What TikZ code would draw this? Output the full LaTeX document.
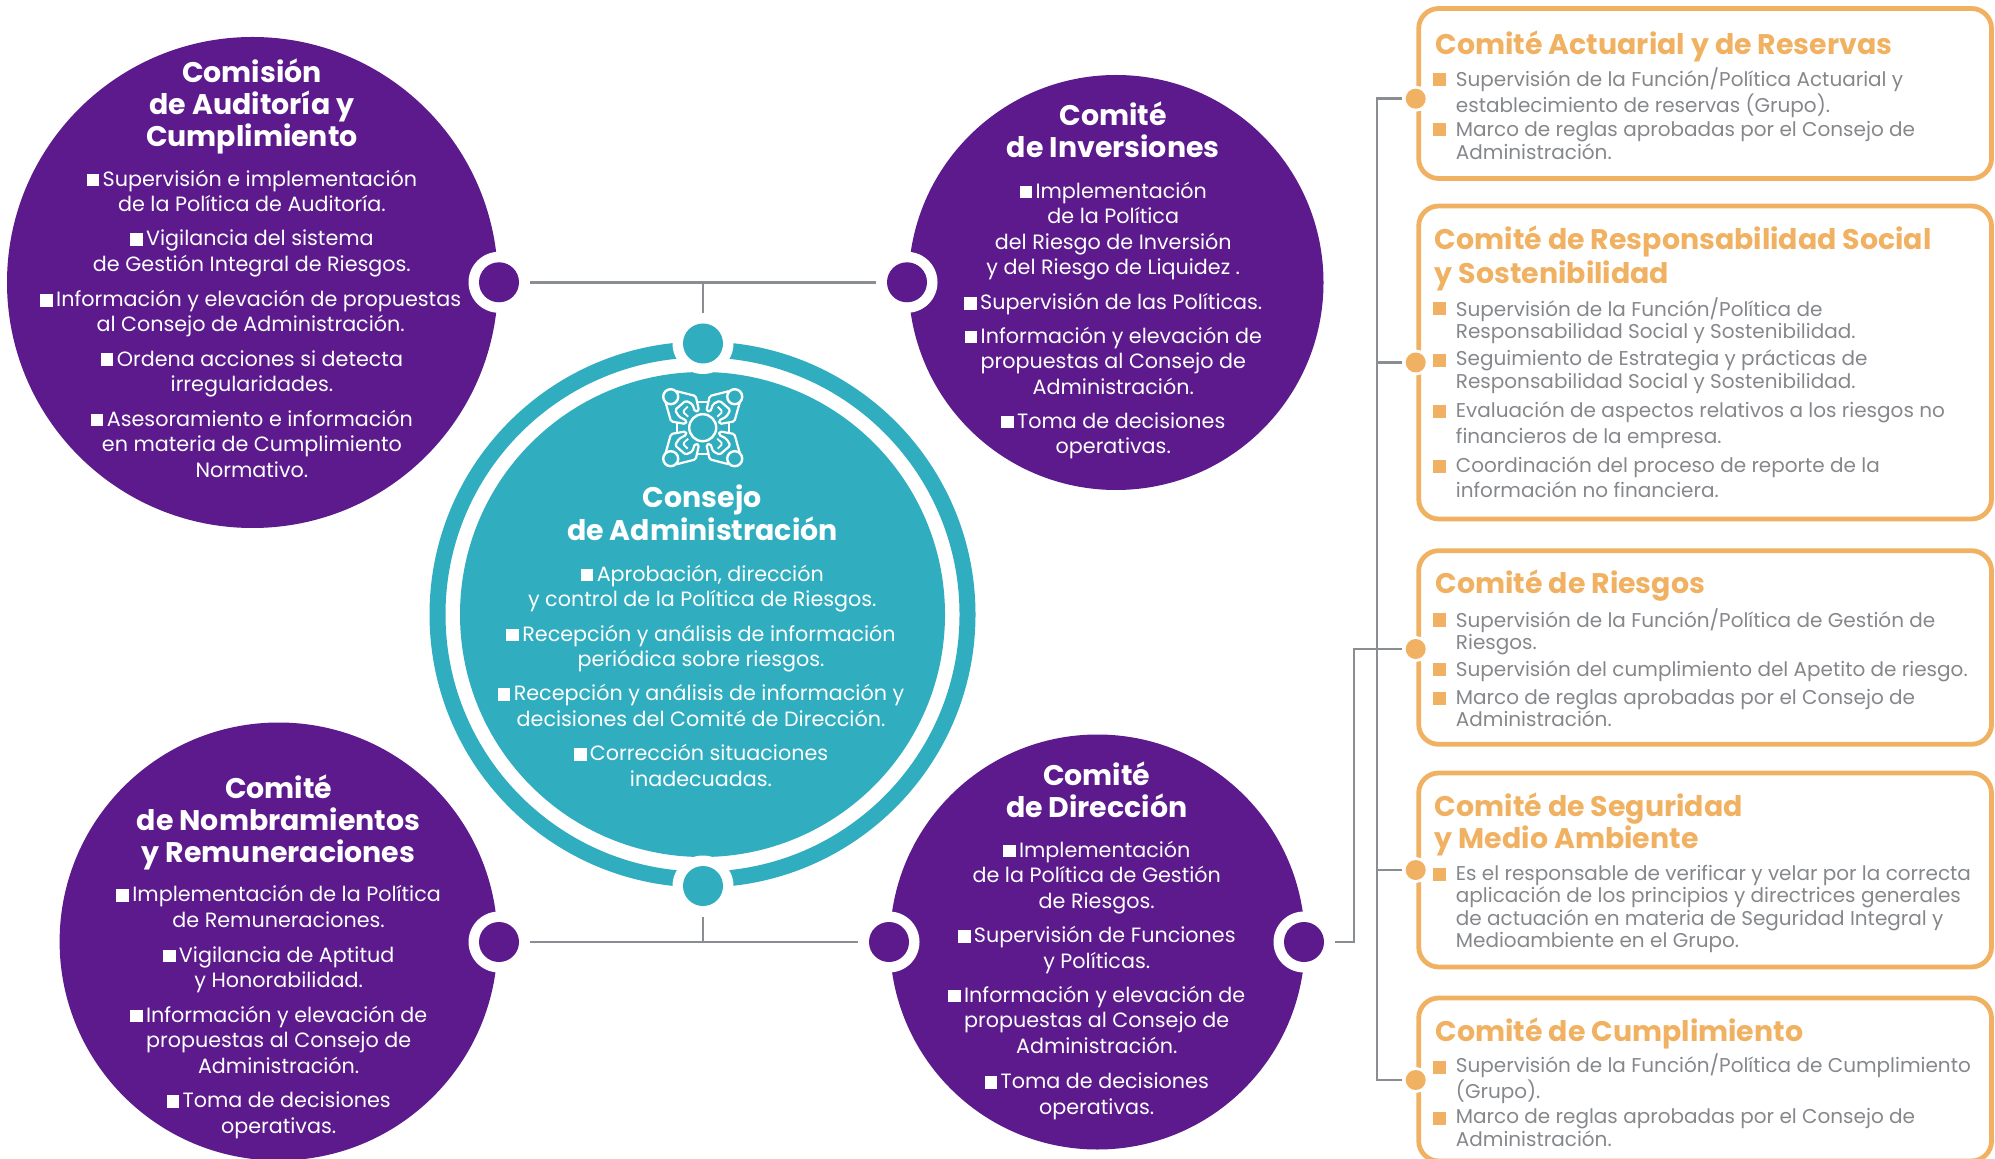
\documentclass[tikz,border=0pt]{standalone}
\usepackage{fontspec}
\setmainfont{Poppins}
\definecolor{morado}{HTML}{5C1A8C}
\definecolor{turq}{HTML}{30AEBF}
\definecolor{naranja}{HTML}{F0B262}
\definecolor{gris}{HTML}{8A8D91}
\definecolor{gristxt}{HTML}{85878B}
\newcommand\pts[2]{({#1*1.2723},{#2*1.2723})}
\newcommand\bu{\rule{6.3pt}{6.3pt}\hspace{1.7pt}}
\tikzset{
  x=0.5pt,y=-0.5pt,
  disc/.style={circle,fill=morado,inner sep=0pt,minimum size=#1},
  tdisc/.style={circle,fill=turq,inner sep=0pt,minimum size=40*0.5pt},
  pdot/.style={circle,fill=morado,inner sep=0pt,minimum size=40*0.5pt},
  halo/.style={circle,fill=white,inner sep=0pt,minimum size=61*0.5pt},
  ohalo/.style={circle,fill=white,inner sep=0pt,minimum size=26*0.5pt},
  odot/.style={circle,fill=naranja,inner sep=0pt,minimum size=20*0.5pt},
  conn/.style={draw=gris,line width=1.25pt},
  txt/.style={inner sep=0pt,yshift=-1.6pt,align=center,text=white,font=\fontsize{10.35}{12.72}\selectfont,
    execute at begin node=\strut,execute at end node=\strut},
  ttl/.style={inner sep=0pt,yshift=-2pt,align=center,text=white,font=\fontsize{14.2}{16.1}\bfseries\selectfont,
    execute at begin node=\strut,execute at end node=\strut},
  bt/.style={inner sep=0pt,yshift=-1pt,anchor=west,align=left,text=gristxt,font=\fontsize{10}{11.3}\selectfont,
    execute at begin node=\strut,execute at end node=\strut},
  btw/.style={bt,font=\fontsize{10}{12.7}\selectfont},
  btt/.style={inner sep=0pt,yshift=-1.5pt,anchor=west,align=left,text=naranja,font=\fontsize{14.2}{17}\bfseries\selectfont,
    execute at begin node=\strut,execute at end node=\strut},
  caja/.style={draw=naranja,line width=2.4pt,rounded corners=10pt},
  cua/.style={fill=naranja},
  ico/.style={draw=white,line width=1.1pt,rounded corners=0.8pt,line join=round},
}
\begin{document}
\begin{tikzpicture}
\clip (0,0) rectangle (1995,1159);
% purple discs
\node[disc=491*0.5pt] (c1) at (252.5,282.5) {};
\node[disc=415*0.5pt] (c2) at (1116,282.5) {};
\node[disc=438*0.5pt] (c3) at (278.6,941.5) {};
\node[disc=415*0.5pt] (c4) at (1097.4,942) {};
% centre
\node[circle,fill=turq,inner sep=0pt,minimum size=485*0.5pt] (c0) at (702.5,614.5) {};
\draw[turq,line width=8pt] (c0.center) circle[radius=265];
% halos
\node[halo] (h1) at (499,282.3) {};
\node[halo] (h2) at (907,282.3) {};
\node[halo] (h3) at (499,942) {};
\node[halo] (h4) at (889,942) {};
\node[halo] (h5) at (1304,942) {};
\node[halo] (ht) at (703,343.5) {};
\node[halo] (hb) at (703,886) {};
% connectors
\draw[conn] (h1) -- (h2);
\draw[conn] (ht.north) -- (ht.north |- h1.east);
\draw[conn] (h3) -- (h4);
\draw[conn] (hb.south) -- (hb.south |- h3.east);
% dots
\node[pdot] (d1) at (h1) {};
\node[pdot] (d2) at (h2) {};
\node[pdot] (d3) at (h3) {};
\node[pdot] (d4) at (h4) {};
\node[pdot] (d5) at (h5) {};
\node[tdisc] (dt) at (ht) {};
\node[tdisc] (db) at (hb) {};
% boxes
\draw[caja] (1418.7,8.5) rectangle (1991.5,178.5);
\draw[caja] (1418.7,206) rectangle (1991.5,519);
\draw[caja] (1418.7,550.7) rectangle (1991.5,744.3);
\draw[caja] (1418.7,773) rectangle (1991.5,967);
\draw[caja] (1418.7,998) rectangle (1991.5,1161);
% tree
\node[ohalo] (o1) at (1415.7,98.7) {};
\node[ohalo] (o2) at (1415.7,362.5) {};
\node[ohalo] (o3) at (1415.7,649) {};
\node[ohalo] (o4) at (1415.7,870) {};
\node[ohalo] (o5) at (1415.7,1080) {};
\coordinate (bus1a) at (1354,942);
\coordinate (bus1b) at (1354,649);
\coordinate (bus2a) at (1377,98.7);
\coordinate (bus2b) at (1377,1080);
\draw[conn] (h5) -- (bus1a) -- (bus1b) -- (o3);
\draw[conn] (o1) -- (bus2a) -- (bus2b) -- (o5);
\draw[conn] (o2) -- (bus2a |- o2);
\draw[conn] (o4) -- (bus2a |- o4);
\node[odot] (q1) at (o1) {};
\node[odot] (q2) at (o2) {};
\node[odot] (q3) at (o3) {};
\node[odot] (q4) at (o4) {};
\node[odot] (q5) at (o5) {};
% icon
\begin{scope}[shift={(702.7,427.7)}]
\draw[white,line width=1.2pt] (0,0) circle[radius=13.5];
\foreach \sx/\sy in {1/1,-1/1,1/-1,-1/-1}{
\begin{scope}[xscale=\sx,yscale=\sy]
\draw[white,line width=1.2pt] (-32,-31) circle[radius=7.5];
\draw[ico] (-26,-36.5) -- (-7,-31.7) -- (-3.7,-17) -- (-7.7,-16) -- (-10.3,-23.7) -- (-17,-27) -- (-27.7,-17.7) -- (-23.7,-11) -- (-16,-7) -- (-17,-3.7) -- (-31.7,-6.3) -- (-37,-25) ;
\draw[ico,line width=0.9pt] (-15,-21) -- (-20,-16) -- (-14.5,-11);
\draw[white,line width=1pt] (-6,-26) -- (0,-26) (-26,-6) -- (-26,0);
\end{scope}}
\end{scope}
% circle texts: Comision
\node[ttl] (t1) at \pts{198}{81.5} {Comisión\\de Auditoría y\\Cumplimiento};
\node[txt] (t1a) at \pts{198}{150.5} {\bu Supervisión e implementación\\de la Política de Auditoría.};
\node[txt] (t1b) at \pts{198}{197.5} {\bu Vigilancia del sistema\\de Gestión Integral de Riesgos.};
\node[txt] (t1c) at \pts{197}{245} {\bu Información y elevación de propuestas\\al Consejo de Administración.};
\node[txt] (t1d) at \pts{198}{292} {\bu Ordena acciones si detecta\\irregularidades.};
\node[txt] (t1e) at \pts{198}{349} {\bu Asesoramiento e información\\en materia de Cumplimiento\\Normativo.};
% Inversiones
\node[ttl] (t2) at \pts{875}{102.5} {Comité\\de Inversiones};
\node[txt] (t2a) at \pts{875}{180} {\bu Implementación\\de la Política\\del Riesgo de Inversión\\y del Riesgo de Liquidez .};
\node[txt] (t2b) at \pts{875}{237} {\bu Supervisión de las Políticas.};
\node[txt] (t2c) at \pts{875}{284} {\bu Información y elevación de\\propuestas al Consejo de\\Administración.};
\node[txt] (t2d) at \pts{875}{341} {\bu Toma de decisiones\\operativas.};
% Consejo
\node[ttl] (t0) at \pts{552}{403.5} {Consejo\\de Administración};
\node[txt] (t0a) at \pts{552}{461} {\bu Aprobación, dirección\\y control de la Política de Riesgos.};
\node[txt] (t0b) at \pts{551}{508} {\bu Recepción y análisis de información\\periódica sobre riesgos.};
\node[txt] (t0c) at \pts{551}{555} {\bu Recepción y análisis de información y\\decisiones del Comité de Dirección.};
\node[txt] (t0d) at \pts{551}{602} {\bu Corrección situaciones\\inadecuadas.};
% Nombramientos
\node[ttl] (t3) at \pts{219}{644} {Comité\\de Nombramientos\\y Remuneraciones};
\node[txt] (t3a) at \pts{219}{713} {\bu Implementación de la Política\\de Remuneraciones.};
\node[txt] (t3b) at \pts{219}{760.5} {\bu Vigilancia de Aptitud\\y Honorabilidad.};
\node[txt] (t3c) at \pts{219}{817.5} {\bu Información y elevación de\\propuestas al Consejo de\\Administración.};
\node[txt] (t3d) at \pts{219}{875} {\bu Toma de decisiones\\operativas.};
% Direccion
\node[ttl] (t4) at \pts{862}{621.5} {Comité\\de Dirección};
\node[txt] (t4a) at \pts{862}{688} {\bu Implementación\\de la Política de Gestión\\de Riesgos.};
\node[txt] (t4b) at \pts{862}{745} {\bu Supervisión de Funciones\\y Políticas.};
\node[txt] (t4c) at \pts{862}{802} {\bu Información y elevación de\\propuestas al Consejo de\\Administración.};
\node[txt] (t4d) at \pts{862}{860} {\bu Toma de decisiones\\operativas.};
% Box 1
\node[btt] (b1) at \pts{1128}{35} {Comité Actuarial y de Reservas};
\fill[cua] (1433.3,73.5) rectangle ++(13,13);
\node[bt] (b1a) at \pts{1144}{72} {Supervisión de la Función/Política Actuarial y\\establecimiento de reservas (Grupo).};
\fill[cua] (1433.3,123.5) rectangle ++(13,13);
\node[bt] (b1b) at \pts{1144}{111.5} {Marco de reglas aprobadas por el Consejo de\\Administración.};
% Box 2
\node[btt] (b2) at \pts{1127.5}{201.5} {Comité de Responsabilidad Social\\y Sostenibilidad};
\fill[cua] (1433.3,302) rectangle ++(13,13);
\node[bt] (b2a) at \pts{1144}{251} {Supervisión de la Función/Política de\\Responsabilidad Social y Sostenibilidad.};
\fill[cua] (1433.3,354) rectangle ++(13,13);
\node[bt] (b2b) at \pts{1144}{291.5} {Seguimiento de Estrategia y prácticas de\\Responsabilidad Social y Sostenibilidad.};
\fill[cua] (1433.3,405) rectangle ++(13,13);
\node[btw] (b2c) at \pts{1144}{333.5} {Evaluación de aspectos relativos a los riesgos no\\financieros de la empresa.};
\fill[cua] (1433.3,460) rectangle ++(13,13);
\node[btw] (b2d) at \pts{1144}{376.5} {Coordinación del proceso de reporte de la\\información no financiera.};
% Box 3
\node[btt] (b3) at \pts{1128}{459} {Comité de Riesgos};
\fill[cua] (1433.3,613.5) rectangle ++(13,13);
\node[bt] (b3a) at \pts{1144}{495.5} {Supervisión de la Función/Política de Gestión de\\Riesgos.};
\fill[cua] (1433.3,663) rectangle ++(13,13);
\node[bt] (b3b) at \pts{1144}{526.5} {Supervisión del cumplimiento del Apetito de riesgo.};
\fill[cua] (1433.3,691.5) rectangle ++(13,13);
\node[bt] (b3c) at \pts{1144}{557.5} {Marco de reglas aprobadas por el Consejo de\\Administración.};
% Box 4
\node[btt,font=\fontsize{14.2}{16.1}\bfseries\selectfont] (b4) at \pts{1127.5}{646.5} {Comité de Seguridad\\y Medio Ambiente};
\fill[cua] (1433.3,868) rectangle ++(13,13);
\node[bt] (b4a) at \pts{1144}{713.5} {Es el responsable de verificar y velar por la correcta\\aplicación de los principios y directrices generales\\de actuación en materia de Seguridad Integral y\\Medioambiente en el Grupo.};
% Box 5
\node[btt] (b5) at \pts{1128}{811} {Comité de Cumplimiento};
\fill[cua] (1433.3,1060.5) rectangle ++(13,13);
\node[bt] (b5a) at \pts{1144}{847} {Supervisión de la Función/Política de Cumplimiento\\(Grupo).};
\fill[cua] (1433.3,1112) rectangle ++(13,13);
\node[bt] (b5b) at \pts{1144}{887} {Marco de reglas aprobadas por el Consejo de\\Administración.};
\end{tikzpicture}
\end{document}
